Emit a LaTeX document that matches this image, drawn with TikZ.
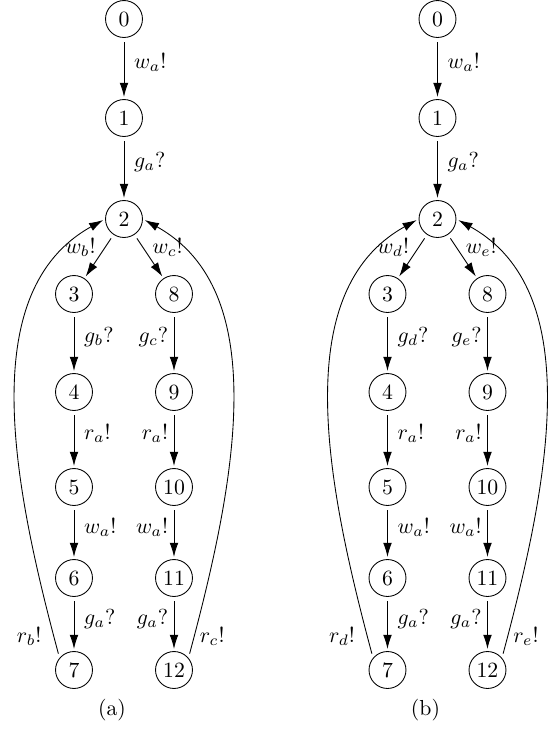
\documentclass[tikz,border=0pt]{standalone}
\usepackage{tikz}
\usetikzlibrary{arrows.meta}
\tikzset{>={Latex[length=6.5pt,width=4pt]}}
\tikzset{
  loc/.style={circle,draw,thin,minimum size=17pt,inner sep=0pt},
  trans/.style={->,thin,shorten <=2pt,shorten >=1pt},
  lbl/.style={inner sep=2.5pt}
}
\begin{document}
\begin{tikzpicture}[x=0.46pt,y=-0.46pt]
\useasboundingbox (0,0) rectangle (557,733);
%one automaton per column: name / shift / writer labels
\foreach \g/\dx/\p/\q in {a/0/b/c, b/313.5/d/e}{
  \begin{scope}[shift={(\dx,0)}]
    \node[loc] (\g0) at (124,19) {0};
    \node[loc] (\g1) at (124,118) {1};
    \node[loc] (\g2) at (124,219) {2};
    \node[loc] (\g3) at (74,294) {3};
    \node[loc] (\g4) at (74,392) {4};
    \node[loc] (\g5) at (74,487) {5};
    \node[loc] (\g6) at (74,578) {6};
    \node[loc] (\g7) at (74,670) {7};
    \node[loc] (\g8) at (174,294) {8};
    \node[loc] (\g9) at (174,392) {9};
    \node[loc] (\g10) at (174,487) {10};
    \node[loc] (\g11) at (174,578) {11};
    \node[loc] (\g12) at (174,670) {12};
    \node (cap\g) at (112,710) {(\g)};
    %main line
    \draw[trans] (\g0) -- node[lbl,right=2pt,pos=0.4] {$w_a!$} (\g1);
    \draw[trans] (\g1) -- node[lbl,right=2pt,pos=0.4] {$g_a?$} (\g2);
    \draw[trans] (\g2) -- node[lbl,left=1.5pt,pos=0.3] {$w_\p!$} (\g3);
    \draw[trans] (\g2) -- node[lbl,right=1.5pt,pos=0.3] {$w_\q!$} (\g8);
    %left branch
    \draw[trans] (\g3) -- node[lbl,right=2pt,pos=0.4] {$g_\p?$} (\g4);
    \draw[trans] (\g4) -- node[lbl,right=2pt,pos=0.4] {$r_a!$} (\g5);
    \draw[trans] (\g5) -- node[lbl,right=2pt,pos=0.4] {$w_a!$} (\g6);
    \draw[trans] (\g6) -- node[lbl,right=2pt,pos=0.4] {$g_a?$} (\g7);
    %right branch
    \draw[trans] (\g8) -- node[lbl,left,pos=0.4] {$g_\q?$} (\g9);
    \draw[trans] (\g9) -- node[lbl,left,pos=0.4] {$r_a!$} (\g10);
    \draw[trans] (\g10) -- node[lbl,left,pos=0.4] {$w_a!$} (\g11);
    \draw[trans] (\g11) -- node[lbl,left,pos=0.4] {$g_a?$} (\g12);
    %back to 2
    \draw[trans] (\g7.140) .. controls +(-47,-175) and +(-130,72) ..
      node[lbl,left=3pt,pos=0.04] {$r_\p!$} (\g2.180);
    \draw[trans] (\g12.40) .. controls +(47,-175) and +(130,72) ..
      node[lbl,right,pos=0.04] {$r_\q!$} (\g2.0);
  \end{scope}
}
\end{tikzpicture}
\end{document}
